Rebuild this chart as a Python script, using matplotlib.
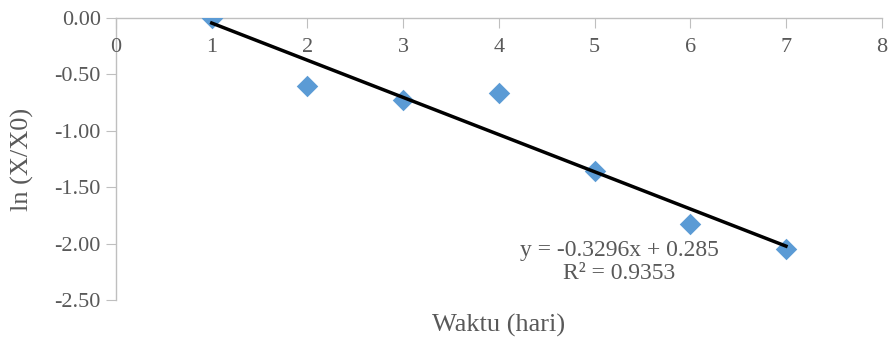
import matplotlib.pyplot as plt

days = [1, 2, 3, 4, 5, 6, 7]
ln_ratio = [0.0, -0.60, -0.73, -0.665, -1.356, -1.826, -2.048]
slope = -0.3296
intercept = 0.285
x_ticks = [0, 1, 2, 3, 4, 5, 6, 7, 8]
y_ticks = [0.0, -0.5, -1.0, -1.5, -2.0, -2.5]

plt.rcParams["font.family"] = ["Liberation Serif", "DejaVu Serif"]
grey = "#595959"
axis_grey = "#bfbfbf"

fig = plt.figure(figsize=(8.96, 3.38), dpi=100)
ax = fig.add_axes([0.1295, 0.1124, 0.8545, 0.8343])

ax.scatter(days, ln_ratio, marker="D", s=120, color="#5b9bd5", zorder=3, linewidths=0)
fit_x = [days[0], days[-1]]
fit_y = [slope * x + intercept for x in fit_x]
ax.plot(fit_x, fit_y, color="black", linewidth=2.5, zorder=4)

ax.set_xlim(0, 8)
ax.set_ylim(-2.5, 0)
ax.set_xticks(x_ticks)
ax.set_yticks(y_ticks)
ax.set_yticklabels([f"{v:.2f}" for v in y_ticks])

for side in ("right", "bottom"):
    ax.spines[side].set_visible(False)
ax.spines["top"].set_color(axis_grey)
ax.spines["left"].set_color(axis_grey)
ax.spines["top"].set_linewidth(1.0)
ax.spines["left"].set_linewidth(1.0)

ax.xaxis.set_ticks_position("top")
ax.tick_params(axis="x", direction="in", length=7, color=axis_grey,
               labeltop=False, labelbottom=False)
ax.tick_params(axis="y", direction="out", length=7, color=axis_grey, labelsize=16,
               labelcolor=grey, pad=4)
for x in x_ticks:
    ax.text(x, -0.26, str(x), ha="center", va="center", fontsize=16, color=grey)

ax.set_ylabel("ln (X/X0)", fontsize=19, color=grey, labelpad=15)
ax.set_xlabel("Waktu (hari)", fontsize=19, color=grey, labelpad=10)
ax.xaxis.set_label_position("bottom")

ax.text(5.26, -2.165, "y = -0.3296x + 0.285\nR² = 0.9353", ha="center", va="center",
        fontsize=17, color=grey, linespacing=1.1)

fig.savefig("out.png", dpi=100)
